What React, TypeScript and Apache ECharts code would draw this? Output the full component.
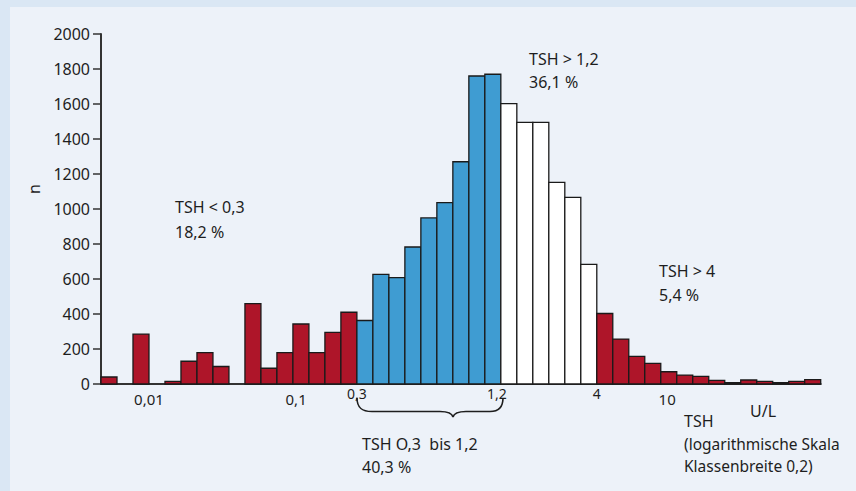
import React, { useEffect, useRef } from "react";
import * as echarts from "echarts";

// TSH class counts (45 classes, logarithmic scale, class width 0.2)
const counts = [
  40, 0, 285, 0, 15, 130, 179, 100, 0, 459, 90, 179, 343, 179, 295, 410,
  363, 627, 608, 783, 949, 1036, 1270, 1760, 1770,
  1602, 1495, 1495, 1152, 1067, 684,
  403, 257, 158, 118, 70, 51, 44, 21, 8, 23, 15, 8, 15, 25,
];
// group of each class: 0 = TSH < 0,3 / > 4 (red), 1 = 0,3–1,2 (blue), 2 = 1,2–4 (white)
const groups = [
  0, 0, 0, 0, 0, 0, 0, 0, 0, 0, 0, 0, 0, 0, 0, 0,
  1, 1, 1, 1, 1, 1, 1, 1, 1,
  2, 2, 2, 2, 2, 2,
  0, 0, 0, 0, 0, 0, 0, 0, 0, 0, 0, 0, 0, 0,
];
const groupColors = ["#ae1529", "#3f9cd2", "#ffffff"];

// x tick labels (positions in class units)
const xTickValues = [3, 12.2, 16, 24.75, 31, 35.4];
const xTickLabels = ["0,01", "0,1", "0,3", "1,2", "4", "10"];
const xTickSmall = [false, false, true, true, true, false];

const yMin = 0;
const yMax = 2000;
const yInterval = 200;

const OX = 10;
const OY = 7;

let braceRegistered = false;

export default function App() {
  const ref = useRef<HTMLDivElement>(null);
  useEffect(() => {
    if (!ref.current) return;
    if (!braceRegistered) {
      const d =
        "M0,0 C0,10 5,13.5 15,13.5 L83,13.5 C91,13.5 95,15 96,19 C97,15 101,13.5 109,13.5 L133,13.5 C141,13.5 146,10 146,0";
      echarts.graphic.registerShape("brace", echarts.graphic.extendPath(d, {}) as any);
      braceRegistered = true;
    }
    const chart = echarts.init(ref.current, null, { renderer: "svg" });
    const font = "'Noto Sans', sans-serif";
    const txt = (x: number, y: number, s: string, size = 16) => ({
      type: "text",
      left: x - OX,
      top: y - OY,
      style: { text: s, fill: "#1e1e1e", font: `${size}px ${font}` },
    });
    chart.setOption({
      animation: false,
      textStyle: { fontFamily: font },
      grid: { left: 91, top: 27, right: 35.3, bottom: 107, containLabel: false },
      xAxis: {
        type: "value",
        min: 0,
        max: counts.length,
        splitLine: { show: false },
        axisTick: { show: false },
        axisLine: { show: true, lineStyle: { color: "#333333", width: 2 } },
        axisLabel: {
          customValues: xTickValues,
          margin: 2,
          verticalAlign: "top",
          color: "#1e1e1e",
          formatter: (v: number) => {
            const i = xTickValues.findIndex((t) => Math.abs(t - v) < 1e-6);
            if (i < 0) return "";
            return xTickSmall[i] ? `{s|${xTickLabels[i]}}` : `{b|${xTickLabels[i]}}`;
          },
          rich: {
            s: { fontSize: 14, fontFamily: font, color: "#1e1e1e" },
            b: { fontSize: 15, fontFamily: font, color: "#1e1e1e", padding: [5, 0, 0, 0] },
          },
        },
      },
      yAxis: {
        type: "value",
        min: yMin,
        max: yMax,
        interval: yInterval,
        name: "n",
        nameLocation: "middle",
        nameGap: 57,
        nameTextStyle: { fontSize: 16, color: "#1e1e1e", padding: [0, 0, 0, 40] },
        splitLine: { show: false },
        axisLine: { show: true, lineStyle: { color: "#333333", width: 2 } },
        axisTick: { show: true, length: 8, lineStyle: { color: "#333333", width: 1.5 } },
        axisLabel: {
          fontSize: 16,
          color: "#1e1e1e",
          margin: 11,
          formatter: (v: number) => String(v),
        },
      },
      series: [
        {
          type: "custom",
          data: counts.map((v, i) => [i, v, groups[i]]),
          encode: { x: 0, y: 1 },
          z: 3,
          renderItem: (params: any, api: any) => {
            const i = api.value(0);
            const v = api.value(1);
            const g = api.value(2);
            if (!v) return null;
            const p0 = api.coord([i, 0]);
            const p1 = api.coord([i + 1, v]);
            return {
              type: "rect",
              shape: { x: p0[0], y: p1[1], width: p1[0] - p0[0], height: p0[1] - p1[1] },
              style: { fill: groupColors[g], stroke: "#1a1a1a", lineWidth: 1.3 },
            };
          },
        },
      ],
      graphic: [
        txt(175, 199, "TSH < 0,3"),
        txt(175, 224, "18,2 %"),
        txt(529, 51, "TSH > 1,2"),
        txt(529, 74, "36,1 %"),
        txt(659, 263, "TSH > 4"),
        txt(659, 287, "5,4 %"),
        txt(362, 436, "TSH O,3  bis 1,2"),
        txt(362, 459, "40,3 %"),
        txt(750, 403, "U/L"),
        txt(684, 413, "TSH"),
        txt(684, 436, "(logarithmische Skala", 15.5),
        txt(684, 458, "Klassenbreite 0,2)", 15.5),
        {
          type: "brace",
          x: 357 - OX,
          y: 398 - OY,
          shape: {},
          style: { fill: "none", stroke: "#1e1e1e", lineWidth: 1.6 },
        },
      ],
    });
    return () => chart.dispose();
  }, []);
  return (
    <div
      style={{
        position: "fixed",
        left: 0,
        top: 0,
        width: 856,
        height: 491,
        background: "#dae7f4",
      }}
    >
      <div
        ref={ref}
        style={{
          position: "absolute",
          left: OX,
          top: OY,
          width: 856 - OX,
          height: 491 - OY,
          background: "#edf2f9",
        }}
      />
    </div>
  );
}
